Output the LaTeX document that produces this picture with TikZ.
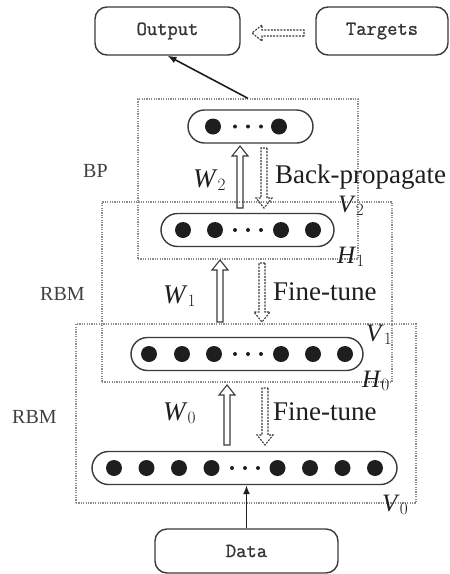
\documentclass[tikz,border=0pt]{standalone}
\usepackage{fontspec}
\setmainfont{Liberation Serif}
\newfontfamily\boxfont[FakeBold=1.2]{Latin Modern Mono}
\usepackage{tikz}
\usetikzlibrary{arrows.meta,positioning,calc,shapes.misc}
\definecolor{ink}{HTML}{1E1E1E}
\definecolor{edge}{HTML}{3A3A3A}
\definecolor{dots}{HTML}{8C8C8C}

\begin{document}
\begin{tikzpicture}[x=1pt,y=-1pt,
    box/.style={draw=edge,line width=1.4pt,rounded corners=12pt,inner sep=0pt,
                text=ink!90,font=\fontsize{20}{22}\selectfont\boxfont},
    layer/.style={draw=edge,line width=1.4pt,rounded rectangle,inner sep=0pt,minimum height=33pt},
    frame/.style={draw=dots,line width=1.3pt,dash pattern=on 1.2pt off 1.2pt,inner sep=0pt},
    lbl/.style={anchor=base west,inner sep=0pt,text=ink!85,font=\fontsize{20}{22}\selectfont},
    tag/.style={anchor=base west,inner sep=0pt,text=ink,font=\fontsize{27}{30}\selectfont},
    vh/.style={tag,font=\fontsize{25}{28}\selectfont},
    link/.style={draw=ink,line width=1.6pt,-{Latex[length=9pt,width=7pt]}},
    hollow/.style={draw=edge,line width=1.1pt,line join=miter,
      to path={($(\tikztostart)!3pt!90:(\tikztotarget)$) --
        ($(\tikztotarget)!10pt!(\tikztostart)!3pt!90:(\tikztotarget)$) --
        ($(\tikztotarget)!10pt!(\tikztostart)!8pt!90:(\tikztotarget)$) --
        (\tikztotarget) --
        ($(\tikztotarget)!10pt!(\tikztostart)!8pt!-90:(\tikztotarget)$) --
        ($(\tikztotarget)!10pt!(\tikztostart)!3pt!-90:(\tikztotarget)$) --
        ($(\tikztostart)!3pt!-90:(\tikztotarget)$) -- cycle}},
    dashhollow/.style={hollow,dash pattern=on 2pt off 1.2pt}]
  \useasboundingbox (0,0) rectangle (450,574);

  % end boxes
  \node[box,minimum width=145pt,minimum height=48pt] (out) at (167.5,31) {Output};
  \node[box,minimum width=132pt,minimum height=48pt] (tgt) at (382,31) {Targets};
  \node[box,minimum width=183pt,minimum height=44pt] (data) at (246.5,551) {Data};

  % dotted frames
  \node[frame,minimum width=340pt,minimum height=179pt] (f0) at (246,413.5) {};
  \node[frame,minimum width=290pt,minimum height=180pt] (f1) at (247,292) {};
  \node[frame,minimum width=220pt,minimum height=160pt] (f2) at (248,179) {};

  % layers of units
  \node[layer,minimum width=305pt] (p0) at (244.5,468) {};
  \node[layer,minimum width=232pt] (p1) at (247,354) {};
  \node[layer,minimum width=173pt] (p2) at (247.5,230) {};
  \node[layer,minimum width=125pt] (p3) at (250.5,126.5) {};
  \foreach \x in {114,146.5,179,211.5,277.5,310,342.5,375} \fill[ink] (\x,468) circle (8pt);
  \foreach \x in {232,245,258} \fill[ink] (\x,468) circle (2pt);
  \foreach \x in {149,182,214,281,313,345} \fill[ink] (\x,354) circle (8pt);
  \foreach \x in {235,248,261} \fill[ink] (\x,354) circle (2pt);
  \foreach \x in {183,215,281,313} \fill[ink] (\x,230) circle (8pt);
  \foreach \x in {235,248,261} \fill[ink] (\x,230) circle (2pt);
  \foreach \x in {213,279} \fill[ink] (\x,126.5) circle (8pt);
  \foreach \x in {235,248,261} \fill[ink] (\x,126.5) circle (2pt);

  % labels
  \node[lbl] (bp) at (83,177) {BP};
  \node[lbl] (rbm1) at (40,300) {RBM};
  \node[lbl] (rbm0) at (12,423) {RBM};
  \node[tag] (w2) at (193,187) {\textit{W}$_2$};
  \node[tag] (w1) at (163,303) {\textit{W}$_1$};
  \node[tag] (w0) at (163,420) {\textit{W}$_0$};
  \node[tag] (bprop) at (275,183) {Back-propagate};
  \node[tag] (ft1) at (273,300) {Fine-tune};
  \node[tag] (ft0) at (273,420) {Fine-tune};
  \node[vh] (v2) at (338,212) {\textit{V}$_2$};
  \node[vh] (h1) at (337,263) {\textit{H}$_1$};
  \node[vh] (v1) at (366,341) {\textit{V}$_1$};
  \node[vh] (h0) at (362,387) {\textit{H}$_0$};
  \node[vh] (v0) at (382,511) {\textit{V}$_0$};

  % arrow ends
  \coordinate (u2a) at (240,208); \coordinate (u2b) at (240,146);
  \coordinate (d2a) at (264,148); \coordinate (d2b) at (264,208);
  \coordinate (u1a) at (220,322); \coordinate (u1b) at (220,260);
  \coordinate (d1a) at (262,263); \coordinate (d1b) at (262,322);
  \coordinate (u0a) at (227,445); \coordinate (u0b) at (227,385);
  \coordinate (d0a) at (265,388); \coordinate (d0b) at (265,445);
  \coordinate (ta) at (304,33);   \coordinate (tb) at (252,33);

  \draw[hollow] (u2a) to (u2b);
  \draw[dashhollow] (d2a) to (d2b);
  \draw[hollow] (u1a) to (u1b);
  \draw[dashhollow] (d1a) to (d1b);
  \draw[hollow] (u0a) to (u0b);
  \draw[dashhollow] (d0a) to (d0b);
  \draw[dashhollow] (ta) to (tb);

  \draw[link] (f2.north) -- (out.south);
  \draw[link] (data.north) -- (data.north |- p0.south);
\end{tikzpicture}
\end{document}
